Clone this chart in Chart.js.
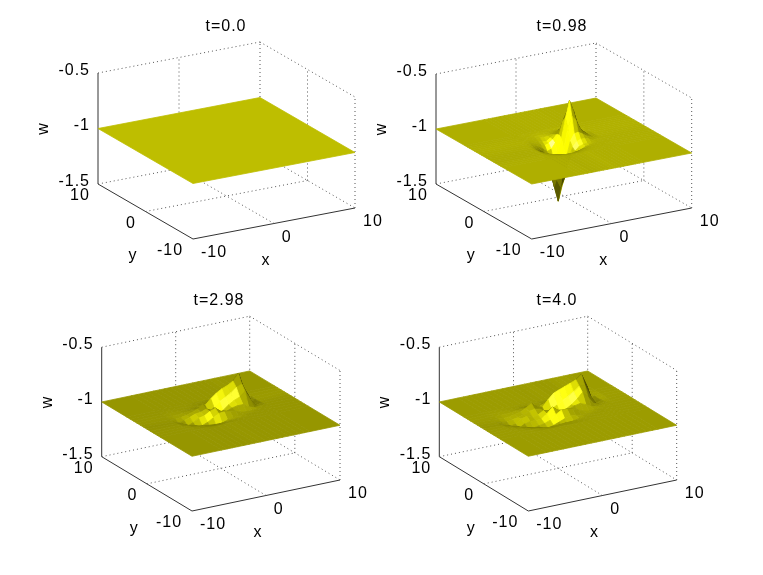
<!DOCTYPE html>
<html>
<head>
<meta charset="utf-8">
<title>w surface at four times</title>
<script src="https://cdn.jsdelivr.net/npm/chart.js@4/dist/chart.umd.min.js"></script>
<style>
  html, body { margin: 0; padding: 0; background: #fff; }
  body { position: relative; width: 763px; height: 575px; overflow: hidden; }
  .panel { position: absolute; width: 380px; height: 265px; }
  canvas { filter: blur(0.4px); }
</style>
</head>
<body>
<div class="panel" style="left:36px;top:11px"><canvas id="c0"></canvas></div>
<div class="panel" style="left:372px;top:11px"><canvas id="c1"></canvas></div>
<div class="panel" style="left:29px;top:285px"><canvas id="c2"></canvas></div>
<div class="panel" style="left:367px;top:285px"><canvas id="c3"></canvas></div>
<script>
const titles = ['t=0.0', 't=0.98', 't=2.98', 't=4.0'];
const xTicks = [-10, 0, 10];
const yTicks = [10, 0, -10];
const wTicks = [-0.5, -1, -1.5];
const flatLevel = -1;

// surface heights, rows go along y, columns along x
const gridXT00 = [];
const gridYT00 = [];
const wT00 = [];

const gridXT098 = [-4, -3.5, -3, -2.5, -2, -1.5, -1, -0.5, 0, 0.5, 1, 1.5, 2, 2.5, 3, 3.5, 4];
const gridYT098 = [-4, -3.5, -3, -2.5, -2, -1.5, -1, -0.5, 0, 0.5, 1, 1.5, 2, 2.5, 3, 3.5, 4];
const wT098 = [
  [-1, -1, -1, -1, -1.005, -1.005, -1.005, -1.005, -1.005, -1, -1, -1, -1, -1, -1, -1, -1],
  [-1, -1.001, -1.004, -1.006, -1.009, -1.01, -1.01, -1.01, -1.009, -1.006, -1.004, -1.001, -1, -1, -1, -1, -1],
  [-1.001, -1.004, -1.008, -1.014, -1.024, -1.03, -1.03, -1.03, -1.024, -1.014, -1.008, -1.004, -1.001, -1, -1, -1, -1],
  [-1.004, -1.008, -1.018, -1.03, -1.038, -1.05, -1.055, -1.05, -1.038, -1.03, -1.02, -1.012, -1.006, -1.003, -1, -1, -1],
  [-1.006, -1.014, -1.03, -1.046, -1.07, -1.09, -1.1, -1.09, -1.075, -1.055, -1.04, -1.022, -1.012, -1.006, -1.003, -1, -1],
  [-1.009, -1.024, -1.038, -1.07, -1.11, -1.17, -1.2, -1.17, -1.11, -1.062, -1.028, -1.016, -1.009, -1.014, -1.009, -1.004, -1.002],
  [-1.01, -1.03, -1.05, -1.09, -1.17, -1.3, -1.38, -1.3, -1.14, -1.04, -0.995, -0.98, -0.98, -0.99, -1.01, -1.007, -1.003],
  [-1.01, -1.03, -1.055, -1.1, -1.2, -1.38, -1.52, -1.38, -1.14, -1, -0.935, -0.93, -0.95, -0.975, -0.99, -1.008, -1.004],
  [-1.01, -1.03, -1.05, -1.09, -1.17, -1.31, -1.365, -1.25, -1.07, -0.89, -0.79, -0.83, -0.91, -0.955, -0.985, -1.01, -1.005],
  [-1.009, -1.024, -1.038, -1.07, -1.11, -1.18, -1.18, -1.115, -0.99, -0.81, -0.66, -0.76, -0.89, -0.95, -0.98, -1.01, -1.005],
  [-1.006, -1.014, -1.03, -1.046, -1.07, -1.1, -1.085, -1.04, -0.97, -0.846, -0.77, -0.81, -0.906, -0.95, -0.985, -1.01, -1.005],
  [-1.004, -1.008, -1.018, -1.03, -1.042, -1.058, -1.045, -1.02, -0.978, -0.93, -0.898, -0.908, -0.946, -0.97, -0.99, -1.008, -1.004],
  [-1.001, -1.004, -1.008, -1.014, -1.027, -1.037, -1.04, -1.015, -0.994, -0.96, -0.953, -0.954, -0.971, -0.985, -1.01, -1.007, -1.003],
  [-1, -1.001, -1.004, -1.006, -1.012, -1.015, -1.016, -1.012, -1.003, -0.985, -0.98, -0.982, -0.99, -1.01, -1.008, -1.004, -1.002],
  [-1, -1, -1.001, -1.003, -1.006, -1.008, -1.008, -1.01, -1.01, -1.008, -1.01, -1.009, -1.008, -1.006, -1.004, -1.002, -1.001],
  [-1, -1, -1, -1, -1.001, -1.003, -1.003, -1.005, -1.005, -1.005, -1.005, -1.005, -1.004, -1.003, -1.002, -1.001, -1],
  [-1, -1, -1, -1, -1, -1, -1, -1, -1, -1, -1, -1, -1, -1, -1, -1, -1]
];

const gridXT298 = [-6, -5.25, -4.5, -3.75, -3, -2.25, -1.5, -0.75, 0, 0.75, 1.5, 2.25, 3, 3.75, 4.5, 5.25, 6];
const gridYT298 = [-3, -2.25, -1.5, -0.75, 0, 0.75, 1.5, 2.25, 3, 3.75, 4.5];
const wT298 = [
  [-1, -1, -1, -1, -1.005, -1.005, -1.005, -1, -1, -1, -1, -1, -1, -1, -1, -1, -1],
  [-1, -1, -1, -1.005, -1.01, -1.015, -1.015, -1.01, -1.005, -1, -1, -1, -1, -1, -1, -1, -1],
  [-1, -1, -1.01, -1.025, -1.05, -1.065, -1.06, -1.04, -1.02, -1.01, -1.005, -1, -1, -1, -1, -1, -1],
  [-1, -1.01, -1.03, -1.06, -1.05, -1.03, -1, -0.97, -0.965, -0.97, -0.98, -1, -1.005, -1.005, -1, -1, -1],
  [-1.005, -1.02, -1.05, -1.03, -1, -0.99, -0.96, -0.94, -0.98, -0.99, -0.97, -0.96, -0.96, -0.99, -1.01, -1.005, -1],
  [-1.01, -1.03, -1.02, -1, -0.98, -0.975, -0.955, -0.98, -1.03, -1, -0.96, -0.93, -0.91, -0.87, -0.96, -1.02, -1.005],
  [-1.005, -1.015, -1.01, -1, -0.985, -0.965, -0.93, -1.02, -0.98, -0.94, -0.91, -0.88, -0.84, -0.82, -0.92, -1.03, -1.01],
  [-1, -1.005, -1.005, -1, -0.995, -0.99, -0.98, -0.97, -0.92, -0.88, -0.85, -0.83, -0.8, -0.74, -0.9, -1.03, -1.01],
  [-1, -1, -1, -1, -1, -1, -0.995, -0.99, -0.98, -0.95, -0.93, -0.91, -0.89, -0.87, -0.96, -1.02, -1.005],
  [-1, -1, -1, -1, -1, -1, -1, -1.005, -1.01, -1, -1, -0.99, -0.98, -0.97, -1, -1.01, -1],
  [-1, -1, -1, -1, -1, -1, -1, -1, -1.005, -1.005, -1.01, -1.01, -1.01, -1.01, -1.01, -1.005, -1]
];

const gridXT40 = [-7.5, -6.75, -6, -5.25, -4.5, -3.75, -3, -2.25, -1.5, -0.75, 0, 0.75, 1.5, 2.25, 3, 3.75, 4.5, 5.25, 6, 6.75, 7.5];
const gridYT40 = [-3.75, -3, -2.25, -1.5, -0.75, 0, 0.75, 1.5, 2.25, 3, 3.75, 4.5];
const wT40 = [
  [-1, -1, -1, -1, -1, -1, -1, -1, -1, -1, -1, -1, -1, -1, -1, -1, -1, -1, -1, -1, -1],
  [-1, -1, -1, -1, -1, -1.005, -1.01, -1.01, -1.005, -1, -1, -1, -1, -1, -1, -1, -1, -1, -1, -1, -1],
  [-1, -1, -1, -1.005, -1.01, -1.02, -1.035, -1.04, -1.04, -1.035, -1.03, -1.02, -1.01, -1.005, -1, -1, -1, -1, -1, -1, -1],
  [-1, -1, -1.005, -1.015, -1.03, -1.05, -1.07, -1.065, -1.05, -1.03, -1.01, -0.99, -1, -1.01, -1.01, -1.005, -1, -1, -1, -1, -1],
  [-1, -1.005, -1.015, -1.035, -1.05, -1.06, -1.05, -1.04, -1.02, -0.98, -0.95, -0.95, -0.96, -0.98, -1, -1.01, -1.01, -1.005, -1, -1, -1],
  [-1.005, -1.015, -1.035, -1.06, -1.03, -1.02, -1.02, -1.02, -0.98, -0.93, -0.97, -1, -0.98, -0.96, -0.95, -0.97, -1, -1.01, -1.005, -1, -1],
  [-1.01, -1.03, -1.05, -1.04, -1.005, -0.99, -1.01, -1, -0.97, -0.98, -1.03, -1.03, -1, -0.97, -0.93, -0.88, -0.93, -1, -1.015, -1.005, -1],
  [-1.01, -1.02, -1.03, -1.02, -1.01, -0.995, -0.975, -0.965, -0.975, -1.04, -1, -0.97, -0.94, -0.91, -0.88, -0.84, -0.84, -0.95, -1.03, -1.01, -1],
  [-1.005, -1.01, -1.015, -1.01, -1, -0.99, -0.965, -0.93, -0.975, -0.99, -0.93, -0.88, -0.86, -0.84, -0.82, -0.8, -0.76, -0.88, -1.03, -1.015, -1],
  [-1, -1.005, -1.005, -1.005, -1, -0.995, -0.99, -0.985, -0.995, -1, -0.98, -0.95, -0.93, -0.91, -0.89, -0.87, -0.86, -0.95, -1.02, -1.01, -1],
  [-1, -1, -1, -1, -1, -1, -1, -1, -1.005, -1.01, -1.01, -1, -1, -0.99, -0.98, -0.97, -0.96, -1, -1.015, -1.005, -1],
  [-1, -1, -1, -1, -1, -1, -1, -1, -1, -1, -1.005, -1.01, -1.01, -1.01, -1.01, -1.015, -1.015, -1.01, -1.005, -1, -1]
];

const gridXs = [gridXT00, gridXT098, gridXT298, gridXT40];
const gridYs = [gridYT00, gridYT098, gridYT298, gridYT40];
const heights = [wT00, wT098, wT298, wT40];

// where each box sits on the page: front floor corner, then the span of each axis
const views = [
  { left: 36, top: 11, front: [193, 239], xSpan: [162, -31], ySpan: [-95, -55], wSpan: 111, base: 190 },
  { left: 372, top: 11, front: [531.7, 239], xSpan: [160, -31], ySpan: [-95.7, -55], wSpan: 110, base: 175 },
  { left: 29, top: 285, front: [192, 511], xSpan: [148, -31], ySpan: [-90.3, -54.3], wSpan: 109.5, base: 150 },
  { left: 367, top: 285, front: [528.3, 511], xSpan: [148.4, -31], ySpan: [-89, -54.3], wSpan: 109.5, base: 156 }
];
const panelW = 380;
const panelH = 265;
const titleBlock = 26;

function project(view, x, y, w) {
  const a = (x + 10) / 20;
  const b = (y + 10) / 20;
  const c = w + 1.5;
  return {
    x: view.front[0] + a * view.xSpan[0] + b * view.ySpan[0],
    y: view.front[1] + a * view.xSpan[1] + b * view.ySpan[1] - c * view.wSpan
  };
}

// two sided light from the viewer, flat ground comes out at the base colour
function shade(base, gx, gy) {
  const k = 9;
  const nx = -gx * k, ny = -gy * k;
  const len = Math.sqrt(nx * nx + ny * ny + 1);
  const lx = -0.5, ly = -0.5, lz = 0.707;
  const dot = Math.abs(nx * lx + ny * ly + lz) / len;
  const spec = Math.pow(dot, 18);
  // very steep walls still pick up some light
  const wall = Math.min(1, Math.max(0, (len - 2) / 2));
  const v = Math.min(255, base * (0.25 + 0.75 * dot / lz + 0.4 * wall) + 170 * spec);
  const blue = Math.min(255, 150 * Math.pow(dot, 40));
  return `rgb(${Math.round(v)},${Math.round(v)},${Math.round(blue)})`;
}

function padGrid(inner, rows) {
  const xs = [-10, ...inner.x, 10];
  const ys = [-10, ...inner.y, 10];
  const edge = xs.map(() => flatLevel);
  const table = [edge, ...rows.map((r) => [flatLevel, ...r, flatLevel]), edge];
  return { xs, ys, table };
}

// slope at a grid node, used to shade the quads around it smoothly
function slopes(xs, ys, table) {
  return ys.map((_, j) => xs.map((_, i) => {
    const i0 = Math.max(i - 1, 0), i1 = Math.min(i + 1, xs.length - 1);
    const j0 = Math.max(j - 1, 0), j1 = Math.min(j + 1, ys.length - 1);
    return {
      gx: (table[j][i1] - table[j][i0]) / (xs[i1] - xs[i0]),
      gy: (table[j1][i] - table[j0][i]) / (ys[j1] - ys[j0])
    };
  }));
}

function surfaceDatasets(view, idx) {
  const { xs, ys, table } = padGrid({ x: gridXs[idx], y: gridYs[idx] }, heights[idx]);
  const g = slopes(xs, ys, table);
  const out = [];
  // dataset 0 is painted last, so start at the corner nearest the viewer
  for (let j = 0; j < ys.length - 1; j++) {
    for (let i = 0; i < xs.length - 1; i++) {
      const a = table[j][i], b = table[j][i + 1], c = table[j + 1][i + 1], d = table[j + 1][i];
      const corners = [g[j][i], g[j][i + 1], g[j + 1][i + 1], g[j + 1][i]];
      const gx = corners.reduce((s, q) => s + q.gx, 0) / 4;
      const gy = corners.reduce((s, q) => s + q.gy, 0) / 4;
      const color = shade(view.base, gx, gy);
      out.push({
        data: [
          project(view, xs[i], ys[j], a),
          project(view, xs[i + 1], ys[j], b),
          project(view, xs[i + 1], ys[j + 1], c),
          project(view, xs[i], ys[j + 1], d),
          project(view, xs[i], ys[j], a)
        ],
        showLine: true,
        fill: 'shape',
        backgroundColor: color,
        borderColor: color,
        borderWidth: 0.8,
        pointRadius: 0
      });
    }
  }
  return out;
}

function boxLine(view, from, to, dotted) {
  return {
    data: [project(view, from[0], from[1], from[2]), project(view, to[0], to[1], to[2])],
    showLine: true,
    fill: false,
    borderColor: dotted ? '#555' : '#333',
    borderWidth: 1,
    borderDash: dotted ? [1, 3] : [],
    pointRadius: 0
  };
}

function boxDatasets(view) {
  const lo = -1.5, hi = -0.5;
  return [
    // back walls and floor grid
    boxLine(view, [-10, 10, hi], [10, 10, hi], true),
    boxLine(view, [10, 10, hi], [10, -10, hi], true),
    boxLine(view, [-10, 10, lo], [10, 10, lo], true),
    boxLine(view, [10, 10, lo], [10, -10, lo], true),
    boxLine(view, [10, 10, lo], [10, 10, hi], true),
    boxLine(view, [10, -10, lo], [10, -10, hi], true),
    boxLine(view, [0, 10, lo], [0, 10, hi], true),
    boxLine(view, [10, 0, lo], [10, 0, hi], true),
    boxLine(view, [0, -10, lo], [0, 10, lo], true),
    boxLine(view, [-10, 0, lo], [10, 0, lo], true),
    // axes
    boxLine(view, [-10, 10, lo], [-10, 10, hi], false),
    boxLine(view, [-10, 10, lo], [-10, -10, lo], false),
    boxLine(view, [-10, -10, lo], [10, -10, lo], false)
  ];
}

const boxText = {
  id: 'boxText',
  beforeDraw(chart) {
    // the title is drawn by Chart.js with whatever spacing the context holds
    chart.ctx.letterSpacing = '1px';
  },
  afterDraw(chart, args, opts) {
    const view = opts.view;
    const ctx = chart.ctx;
    const sx = chart.scales.x, sy = chart.scales.y;
    const put = (p, dx, dy, text, align) => {
      ctx.textAlign = align || 'center';
      ctx.textBaseline = 'middle';
      ctx.fillText(text, sx.getPixelForValue(p.x) + dx, sy.getPixelForValue(p.y) + dy);
    };
    ctx.save();
    ctx.fillStyle = '#000';
    ctx.font = '16px "Liberation Sans"';
    ctx.letterSpacing = '1px';
    wTicks.forEach((w) => put(project(view, -10, 10, w), -8, -2.5, String(w), 'right'));
    yTicks.forEach((y) => {
      const dx = y === 10 ? -18 : y === 0 ? -14.5 : -23;
      put(project(view, -10, y, -1.5), dx, 12, String(y));
    });
    xTicks.forEach((x) => {
      const dx = x === -10 ? 21 : x === 0 ? 12.7 : 18;
      put(project(view, x, -10, -1.5), dx, 14, String(x));
    });
    put(project(view, -10, 0, -1.5), -12.5, 44.5, 'y');
    put(project(view, 0, -10, -1.5), -8, 37, 'x');
    const wp = project(view, -10, 10, -1);
    ctx.translate(sx.getPixelForValue(wp.x) - 54.5, sy.getPixelForValue(wp.y));
    ctx.rotate(-Math.PI / 2);
    ctx.textAlign = 'center';
    ctx.fillText('w', 0, 0);
    ctx.restore();
  }
};

views.forEach((view, idx) => {
  new Chart(document.getElementById('c' + idx), {
    type: 'scatter',
    data: { datasets: [...surfaceDatasets(view, idx), ...boxDatasets(view)] },
    plugins: [boxText],
    options: {
      responsive: true,
      maintainAspectRatio: false,
      animation: false,
      events: [],
      layout: { padding: 0 },
      elements: { line: { tension: 0 } },
      scales: {
        x: { type: 'linear', display: false, min: view.left, max: view.left + panelW },
        y: { type: 'linear', display: false, reverse: true, min: view.top + titleBlock, max: view.top + panelH }
      },
      plugins: {
        legend: { display: false },
        tooltip: { enabled: false },
        title: {
          display: true,
          text: titles[idx],
          color: '#000',
          font: { family: '"Liberation Sans"', size: 16, weight: 'normal', lineHeight: 0.75 },
          padding: { top: 10, bottom: 4 }
        },
        boxText: { view }
      }
    }
  });
});
</script>
</body>
</html>
